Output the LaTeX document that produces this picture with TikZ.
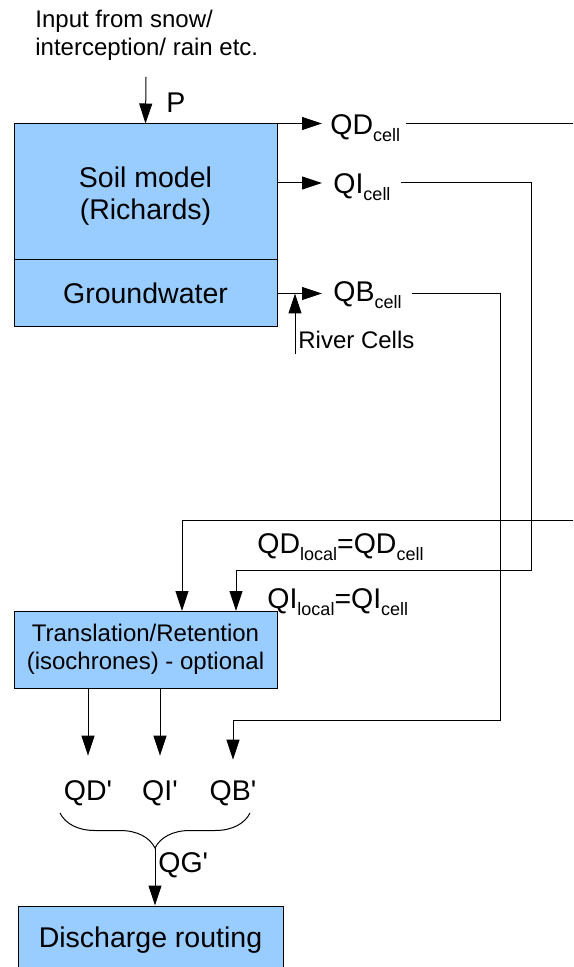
\documentclass[tikz,border=0pt]{standalone}
\usepackage{fontspec}
\setmainfont{Liberation Sans}
\usetikzlibrary{arrows.meta, positioning, calc, decorations.pathreplacing}
\usepackage{xcolor}

\newcommand{\lowsub}[1]{\raisebox{-3.5pt}{\fontsize{9}{9}\selectfont #1}}
\newcommand{\bigfont}{\fontsize{14.25}{15.8}\selectfont}
\newcommand{\smallfont}{\fontsize{12}{14}\selectfont}

\begin{document}
\begin{tikzpicture}[x=0.5pt, y=-0.5pt,
    model/.style={draw=black, line width=0.5pt, fill=boxblue, inner sep=0pt, font=\bigfont, align=center},
    flow/.style={-{Triangle[length=10pt, width=6.5pt]}, line width=0.5pt},
    link/.style={line width=0.5pt},
    lbl/.style={inner sep=0pt, font=\bigfont}]

% --- COLOURS ---
\definecolor{boxblue}{RGB}{153, 204, 255}   % light blue model boxes

\clip (0,0) rectangle (573,967);

% --- SOIL COLUMN (Top) ---
\node[model, minimum width=131.5pt, minimum height=68pt] (soil) at (145.5,192) {};
\node[lbl, align=center] (soiltext) at ([yshift=-2pt]soil.center) {Soil model\\(Richards)};
\node[model, minimum width=131.5pt, minimum height=33.5pt] (gw) at (145.5,293.5) {Groundwater};

\node[inner sep=0pt, font=\smallfont, align=left, anchor=west] (input) at (35,35) {Input from snow/\\interception/ rain etc.};
\coordinate (pin) at (146,77);
\draw[flow] (pin) -- (soil.north);
\node[lbl] (plabel) at (176,103) {P};

% --- CELL OUTFLOWS ---
\node[lbl, anchor=base west] (qdcell) at (330,135) {QD\lowsub{cell}};
\node[lbl, anchor=base west] (qicell) at (333,194) {QI\lowsub{cell}};
\node[lbl, anchor=base west] (qbcell) at (333,302) {QB\lowsub{cell}};

\coordinate (qiout) at (277,183);
\draw[flow, shorten >=4pt] (soil.north east) -- (soil.north east -| qdcell.west);
\draw[flow, shorten >=5.5pt] (qiout) -- (qiout -| qicell.west);
\draw[flow, shorten >=5.5pt] (gw.east) -- (gw.east -| qbcell.west);

\node[inner sep=0pt, font=\smallfont, anchor=north west] (river) at (298,331) {River Cells};
\coordinate (rivfoot) at (295,354);
\draw[flow] (rivfoot) -- (rivfoot |- gw.east);

% --- LOCAL INFLOWS ---
\node[model, font=\smallfont, minimum width=131.5pt, minimum height=38.5pt] (trans) at (145.5,649.5) {Translation/Retention\\(isochrones) - optional};

\node[lbl, anchor=base west] (qdlocal) at (257,553) {QD\lowsub{local}=QD\lowsub{cell}};
\node[lbl, anchor=base west] (qilocal) at (267,608) {QI\lowsub{local}=QI\lowsub{cell}};

\coordinate (qdend) at (576,124);
\coordinate (qdback) at (576,520);
\coordinate (qdin) at (182,611);
\draw[link, shorten <=2.5pt] (qdcell.east |- qdend) -- (qdend);
\draw[flow] (qdback) -| (qdin);

\coordinate (qibend) at (531,570);
\coordinate (qiin) at (236,611);
\draw[flow, shorten <=5pt] (qicell.east |- qiout) -- (qiout -| qibend) -- (qibend) -| (qiin);

% --- PRIMED FLOWS ---
\node[lbl, anchor=base] (qdp) at (88,800) {QD\textquotesingle};
\node[lbl, anchor=base] (qip) at (160,800) {QI\textquotesingle};
\node[lbl, anchor=base] (qbp) at (233,800) {QB\textquotesingle};

\coordinate (qbbend) at (500,720);
\draw[flow, shorten <=5pt, shorten >=10pt] (qbcell.east |- gw.east) -- (gw.east -| qbbend) -- (qbbend) -| (qbp.north);

\draw[flow, shorten >=12pt] (trans.south -| qdp.north) -- (qdp.north);
\draw[flow, shorten >=12pt] (trans.south -| qip.north) -- (qip.north);

% --- DISCHARGE ROUTING (Bottom) ---
\coordinate (brr) at (250,813);
\coordinate (brl) at (60,813);
\coordinate (bracetip) at (155,848);
\draw[link, decorate, decoration={brace, amplitude=17.5pt}] (brr) -- (brl);

\node[model, minimum width=132.5pt, minimum height=34pt] (routing) at (150.5,940) {Discharge routing};
\draw[flow] (bracetip) -- (bracetip |- routing.north);
\node[lbl, anchor=west] (qg) at (158,865) {QG\textquotesingle};

\end{tikzpicture}
\end{document}
